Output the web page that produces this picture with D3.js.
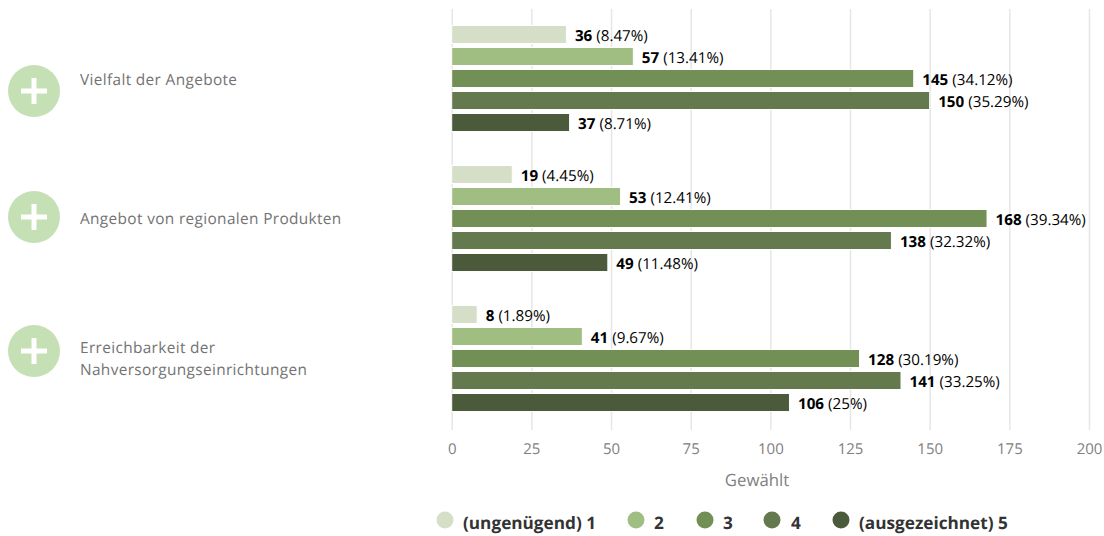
<!DOCTYPE html>
<html><head><meta charset="utf-8">
<script src="https://cdn.jsdelivr.net/npm/d3@7/dist/d3.min.js"></script>
<style>html,body{margin:0;padding:0;background:#fff}svg{display:block}text{font-family:"Open Sans",sans-serif;text-rendering:geometricPrecision}</style>
</head><body><div id="c"></div>
<script>
const categories=["Vielfalt der Angebote","Angebot von regionalen Produkten","Erreichbarkeit der\nNahversorgungseinrichtungen"];
const seriesNames=["(ungenügend) 1","2","3","4","(ausgezeichnet) 5"];
const colors=["#d5dfc7","#a0bd82","#728f56","#64794e","#4a5a3a"];
const counts=[[36,57,145,150,37],[19,53,168,138,49],[8,41,128,141,106]];
const percents=[["8.47","13.41","34.12","35.29","8.71"],["4.45","12.41","39.34","32.32","11.48"],["1.89","9.67","30.19","33.25","25"]];
const ticks=[0,25,50,75,100,125,150,175,200];
const W=1104,H=536;
const svg=d3.select("#c").append("svg").attr("width",W).attr("height",H);
const x=d3.scaleLinear().domain([0,200]).range([451.7,1089]);
const y0=d3.scaleBand().domain(d3.range(3)).range([8.5,428.5]);
const y1=d3.scaleBand().domain(d3.range(5)).range([15,125]).paddingInner(0.18).paddingOuter(0.09);
const axis=d3.axisBottom(x).tickValues(ticks).tickSize(-421).tickPadding(13);
const ag=svg.append("g").attr("transform","translate(0,430)").call(axis);
ag.select(".domain").remove();
ag.selectAll("line").attr("stroke","#e6e6e6").attr("stroke-width",1.5);
ag.selectAll("text").attr("fill","#808080").style("font-size","15px").style("font-family",'"Open Sans"');
svg.append("text").attr("x",757).attr("y",486).attr("text-anchor","middle").attr("fill","#808080").style("font-size","16.8px").text("Gewählt");
const g=svg.selectAll("g.grp").data(counts).join("g").attr("class","grp").attr("transform",(d,i)=>`translate(0,${y0(i)})`);
g.each(function(vals,i){
  const s=d3.select(this);
  s.selectAll("rect").data(vals).join("rect")
    .attr("x",x(0)).attr("y",(d,j)=>y1(j)).attr("width",d=>x(d)-x(0)).attr("height",y1.bandwidth())
    .attr("fill",(d,j)=>colors[j]).attr("stroke","#fff").attr("stroke-width",1);
  const t=s.selectAll("text.lab").data(vals).join("text").attr("class","lab")
    .attr("x",d=>x(d)+8.5).attr("y",(d,j)=>y1(j)+y1.bandwidth()/2+6).style("font-size","15.2px").attr("fill","#000");
  t.append("tspan").attr("font-weight",700).text(d=>d);
  t.append("tspan").attr("dx",4).text((d,j)=>`(${percents[i][j]}%)`);
});
const catY=[91,217,351], labY=[85,224,353];
categories.forEach((c,i)=>{
  svg.append("circle").attr("cx",34).attr("cy",catY[i]).attr("r",26).attr("fill","#c5e0b4");
  svg.append("path").attr("d",`M21 ${catY[i]}H47M34 ${catY[i]-13}V${catY[i]+13}`).attr("stroke","#fff").attr("stroke-width",5).attr("fill","none");
  const lines=c.split("\n");
  const t=svg.append("text").attr("fill","#737373").style("font-size","15.4px").attr("letter-spacing",".35");
  lines.forEach((l,k)=>t.append("tspan").attr("x",80).attr("y",labY[i]+k*22).text(l));
});
const legX=[445,636,705,772,841], legT=[463,654,723,791,859];
seriesNames.forEach((n,i)=>{
  svg.append("circle").attr("cx",legX[i]).attr("cy",520).attr("r",8.5).attr("fill",colors[i]);
  svg.append("text").attr("x",legT[i]).attr("y",529).attr("font-weight",700).attr("fill","#333").style("font-size","17.2px").text(n);
});
</script></body></html>
